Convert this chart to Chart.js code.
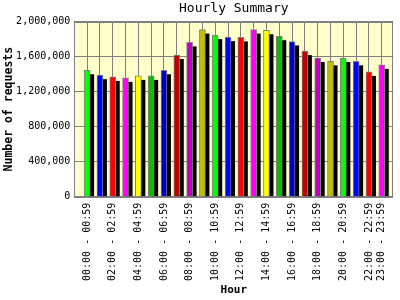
<!DOCTYPE html>
<html>
<head>
<meta charset="utf-8">
<script src="https://cdn.jsdelivr.net/npm/chart.js@4/dist/chart.umd.min.js"></script>
<style>
  body { margin: 0; background: #fff; }
  #wrap { width: 400px; height: 300px; }
</style>
</head>
<body>
<div id="wrap"><canvas id="grafico" width="400" height="300"></canvas></div>
<script>
const horas = [
    '00:00 - 00:59','01:00 - 01:59','02:00 - 02:59','03:00 - 03:59',
    '04:00 - 04:59','05:00 - 05:59','06:00 - 06:59','07:00 - 07:59',
    '08:00 - 08:59','09:00 - 09:59','10:00 - 10:59','11:00 - 11:59',
    '12:00 - 12:59','13:00 - 13:59','14:00 - 14:59','15:00 - 15:59',
    '16:00 - 16:59','17:00 - 17:59','18:00 - 18:59','19:00 - 19:59',
    '20:00 - 20:59','21:00 - 21:59','22:00 - 22:59','23:00 - 23:59'
];
const requisicoes = [
    1444000, 1388000, 1368000, 1357000, 1380000, 1380000, 1444000, 1618000,
    1762000, 1909000, 1845000, 1822000, 1819000, 1909000, 1901000, 1833000,
    1773000, 1663000, 1584000, 1546000, 1584000, 1546000, 1425000, 1505000
];
const coresBarras = [
    '#00ff00','#0000ff','#ff0000','#ff00ff','#ffff00',
    '#00c000','#0000c0','#c00000','#c000c0','#c0c000'
];
const ticksY = [0, 400000, 800000, 1200000, 1600000, 2000000];

const fonte = 'DejaVu Sans Mono';

// fundo amarelo e moldura da area do grafico
const fundoPlugin = {
    id: 'fundo',
    beforeDraw(chart){
        const a = chart.chartArea, ctx = chart.ctx;
        ctx.save();
        ctx.fillStyle = '#ffffcc';
        ctx.fillRect(a.left, a.top, a.right - a.left, a.bottom - a.top);
        ctx.restore();
    },
    afterDraw(chart){
        const a = chart.chartArea, ctx = chart.ctx;
        ctx.save();
        ctx.strokeStyle = '#808080';
        ctx.lineWidth = 1;
        ctx.strokeRect(Math.round(a.left) + 0.5, Math.round(a.top) + 0.5,
            Math.round(a.right - a.left) - 1, Math.round(a.bottom - a.top));
        ctx.restore();
    }
};

// sombra preta atras de cada barra
const sombraPlugin = {
    id: 'sombra',
    beforeDatasetsDraw(chart){
        const a = chart.chartArea, ctx = chart.ctx;
        ctx.save();
        ctx.beginPath();
        ctx.rect(a.left, a.top, a.right - a.left, a.bottom - a.top);
        ctx.clip();
        ctx.fillStyle = '#000';
        chart.getDatasetMeta(0).data.forEach(bar => {
            const p = bar.getProps(['x','y','base','width'], true);
            ctx.fillRect(p.x - p.width/2 + 4, p.y + 4, p.width, p.base - p.y - 4);
        });
        ctx.restore();
    }
};

const ctx = document.getElementById('grafico').getContext('2d');
new Chart(ctx, {
    type: 'bar',
    data: {
        datasets: [{
            data: requisicoes.map((v, i) => ({ x: i, y: v })),
            backgroundColor: requisicoes.map((v, i) => coresBarras[i % coresBarras.length]),
            borderColor: '#808080',
            borderWidth: 1,
            barThickness: 6
        }]
    },
    options: {
        responsive: false,
        animation: false,
        layout: { padding: { top: 0, right: 1, bottom: 0, left: 0 } },
        plugins: {
            legend: { display: false },
            tooltip: { enabled: false },
            title: {
                display: true,
                text: 'Hourly Summary',
                fullSize: false,
                color: '#000',
                font: { family: fonte, size: 13, weight: 'normal' },
                padding: { top: 1, bottom: 5 }
            }
        },
        scales: {
            x: {
                type: 'linear',
                offset: false,
                min: -1,
                max: 23.9,
                afterBuildTicks: s => { s.ticks = horas.map((h, i) => ({ value: i })); },
                afterFit: s => { s.height = 103.3; },
                grid: { color: '#808080', drawTicks: false, offset: false },
                border: { display: false },
                ticks: {
                    autoSkip: false,
                    minRotation: 90,
                    maxRotation: 90,
                    padding: 6,
                    color: '#000',
                    font: { family: fonte, size: 10 },
                    callback: v => (v % 2 === 0 || v === horas.length - 1) ? horas[v] : ''
                },
                title: {
                    display: true,
                    text: 'Hour',
                    color: '#000',
                    font: { family: fonte, size: 11, weight: 'bold' },
                    padding: { top: 0, bottom: 3 }
                }
            },
            y: {
                min: 0,
                max: 2000000,
                afterBuildTicks: s => { s.ticks = ticksY.map(v => ({ value: v })); },
                afterFit: s => { s.width = 74.3; },
                grid: { color: '#808080', drawTicks: false },
                border: { display: false },
                ticks: {
                    padding: 4,
                    color: '#000',
                    font: { family: fonte, size: 10 },
                    callback: v => v.toLocaleString('en-US')
                },
                title: {
                    display: true,
                    text: 'Number of requests',
                    color: '#000',
                    font: { family: fonte, size: 11.5, weight: 'bold' },
                    padding: { top: 2, bottom: 0 }
                }
            }
        }
    },
    plugins: [fundoPlugin, sombraPlugin]
});
</script>
</body>
</html>
